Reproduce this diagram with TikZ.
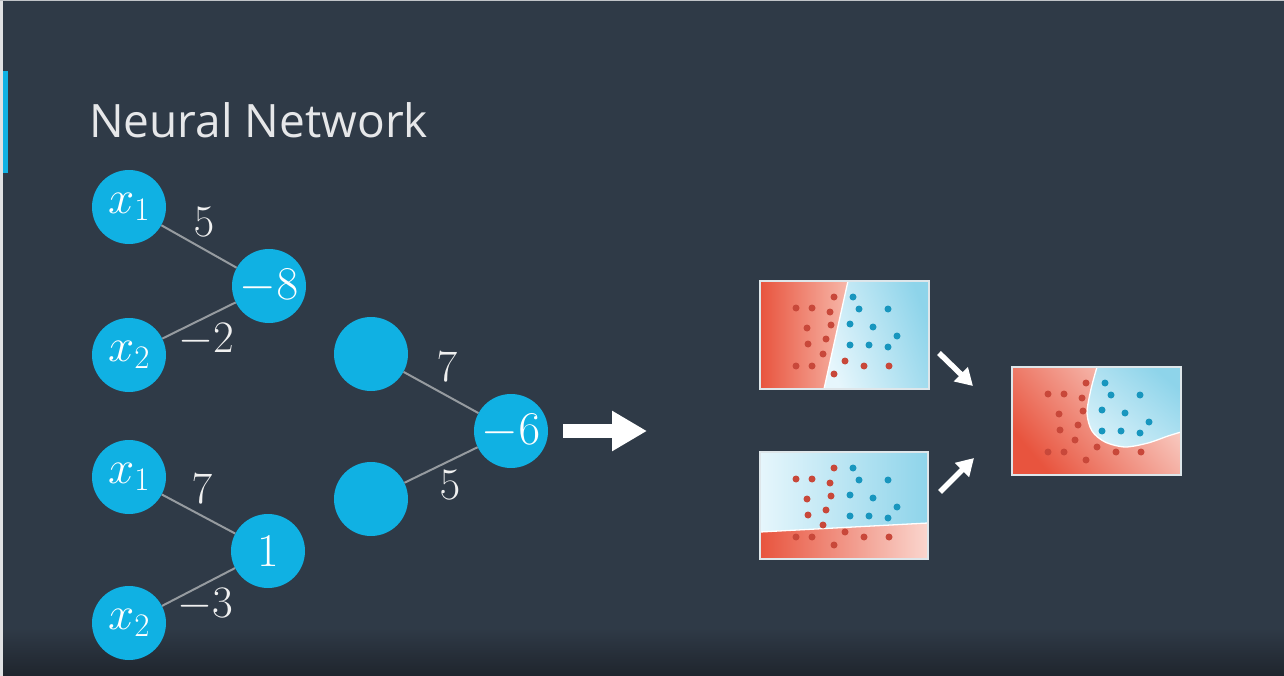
\documentclass[tikz,border=0pt]{standalone}
\usepackage{fix-cm}
\usepackage{fontspec}
\newfontfamily\titlefont{Open Sans}
\usetikzlibrary{arrows.meta}
\definecolor{slate}{RGB}{47,58,71}
\definecolor{slatedark}{RGB}{31,37,45}
\definecolor{cyannode}{RGB}{16,177,227}
\definecolor{edgegray}{RGB}{150,155,160}
\definecolor{redA}{RGB}{232,84,62}
\definecolor{redB}{RGB}{247,184,170}
\definecolor{redC}{RGB}{250,214,206}
\definecolor{blueA}{RGB}{142,212,234}
\definecolor{blueB}{RGB}{230,246,252}
\definecolor{reddot}{RGB}{200,72,58}
\definecolor{bluedot}{RGB}{24,150,190}
\definecolor{framegray}{RGB}{222,230,234}
\tikzset{
  neuron/.style={circle, fill=cyannode, minimum size=74pt, inner sep=0pt,
    text=white, font=\fontsize{47}{50}\selectfont},
  weight/.style={text=white!94!black, inner sep=0pt, font=\fontsize{45}{48}\selectfont},
  link/.style={draw=edgegray, line width=2pt},
  plotbox/.style={draw=framegray, line width=1.6pt, inner sep=0pt},
  fatarrow/.style={white, line width=14pt, -{Triangle[length=35pt,width=38pt]}},
  thinarrow/.style={white, line width=5.5pt, -{Triangle[length=17pt,width=19pt]}},
  rdot/.style={fill=reddot},
  bdot/.style={fill=bluedot},
  boundary/.style={draw=white, line width=1.3pt}
}
% the same sample points in every panel
\newcommand{\sampledots}{%
  \foreach \p in {(74,16),(36,27),(52,27),(70,31),(47,47),(71,44),(48,63),(66,58),
                  (63,73),(36,85),(52,85),(74,93),(85,80),(104,85),(129,85)}
    \fill[rdot] \p circle (3.5pt);
  \foreach \p in {(93,16),(99,28),(128,28),(90,43),(113,46),(137,55),(90,64),(109,64),(128,66)}
    \fill[bdot] \p circle (3.5pt);
}
\begin{document}
\begin{tikzpicture}[x=1pt,y=-1pt]
\useasboundingbox (0,0) rectangle (1284,676);
% slide background
\fill[slate] (0,0) rectangle (1284,676);
\shade[top color=slate, bottom color=slatedark] (0,628) rectangle (1284,676);
\fill[white!85!slate] (0,0) rectangle (3,676);
\fill[white!70!slate] (0,0) rectangle (1284,1.5);
\fill[cyannode] (3,71) rectangle (8,173);

% title
\node[anchor=base west, inner sep=0pt, text=white!88!slate,
      font=\titlefont\fontsize{46}{50}\selectfont] (title) at (89,138) {Neural Network};

% first small network
\node[neuron] (a1) at (129,207) {$x_1$};
\node[neuron] (a2) at (129,355) {$x_2$};
\node[neuron] (ha) at (269,286) {$-8$};
\draw[link] (a1) -- (ha);
\draw[link] (a2) -- (ha);
\node[weight] (wa1) at (204,222) {$5$};
\node[weight] (wa2) at (206,340) {$-2$};

% second small network
\node[neuron] (b1) at (129,477) {$x_1$};
\node[neuron] (b2) at (129,623) {$x_2$};
\node[neuron] (hb) at (268,551) {$1$};
\draw[link] (b1) -- (hb);
\draw[link] (b2) -- (hb);
\node[weight] (wb1) at (202,489) {$7$};
\node[weight] (wb2) at (205,605) {$-3$};

% combining layer
\node[neuron] (c1) at (371,354) {};
\node[neuron] (c2) at (371,499) {};
\node[neuron] (out) at (511,431) {$-6$};
\draw[link] (c1) -- (out);
\draw[link] (c2) -- (out);
\node[weight] (wc1) at (447,367) {$7$};
\node[weight] (wc2) at (450,485) {$5$};

% big arrow
\coordinate (fatA) at (563,431);
\coordinate (fatB) at (647,431);
\draw[fatarrow] (fatA) -- (fatB);

% panel 1: straight, almost vertical boundary
\begin{scope}[shift={(760,281)}]
  \shade[left color=redA, right color=redB]
    (0,0) -- (88,0) -- (64,108) -- (0,108) -- cycle;
  \shade[top color=blueA, bottom color=blueB, shading angle=-70]
    (88,0) -- (169,0) -- (169,108) -- (64,108) -- cycle;
  \draw[boundary] (88,0) -- (64,108);
  \sampledots
\end{scope}
\node[plotbox, minimum width=169pt, minimum height=108pt] (p1) at (844.5,335) {};

% panel 2: almost horizontal boundary
\begin{scope}[shift={(760,452)}]
  \shade[left color=blueB, right color=blueA]
    (0,0) -- (168,0) -- (168,71) -- (0,80) -- cycle;
  \shade[left color=redA, right color=redC]
    (0,80) -- (168,71) -- (168,107) -- (0,107) -- cycle;
  \draw[boundary] (0,80) -- (168,71);
  \sampledots
\end{scope}
\node[plotbox, minimum width=168pt, minimum height=107pt] (p2) at (844,505.5) {};

% panel 3: combined curved boundary
\begin{scope}[shift={(1012,367)}]
  \shade[top color=redC, bottom color=redA, shading angle=-50]
    (0,0) rectangle (169,108);
  \shade[top color=blueA, bottom color=blueB!80!blueA, shading angle=-40]
    plot[smooth] coordinates {(85,0) (79,22) (75,46) (80,64) (93,75) (113,80) (136,76) (156,69) (169,65)}
    -- (169,0) -- cycle;
  \draw[boundary]
    plot[smooth] coordinates {(85,0) (79,22) (75,46) (80,64) (93,75) (113,80) (136,76) (156,69) (169,65)};
  \sampledots
\end{scope}
\node[plotbox, minimum width=169pt, minimum height=108pt] (p3) at (1096.5,421) {};

% arrows merging the two panels
\coordinate (up1) at (939,353);
\coordinate (up2) at (973,386);
\coordinate (lo1) at (940,492);
\coordinate (lo2) at (974,458);
\draw[thinarrow] (up1) -- (up2);
\draw[thinarrow] (lo1) -- (lo2);
\end{tikzpicture}
\end{document}
